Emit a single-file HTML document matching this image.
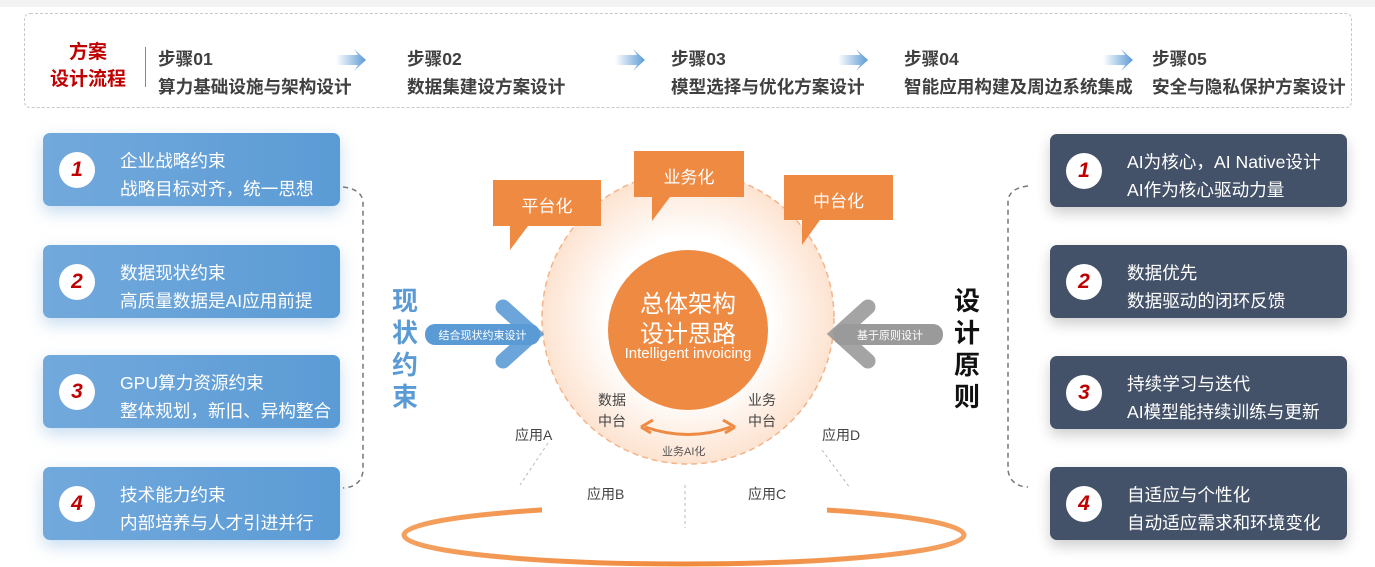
<!DOCTYPE html>
<html><head><meta charset="utf-8"><style>
*{margin:0;padding:0;box-sizing:border-box}
body{width:1375px;height:567px;overflow:hidden;background:#fff;font-family:"Liberation Sans","Noto Sans CJK SC",sans-serif;position:relative}
.a{position:absolute}
.top{left:0;top:0;width:1375px;height:7px;background:#f3f3f3}
.flow{left:24px;top:13px;width:1328px;height:95px;border:1.5px dashed #c8c8c8;border-radius:6px}
.ft{color:#c00000;font-weight:bold;font-size:19px;line-height:27px;text-align:center;left:40px;top:39px;width:96px}
.sep{left:145px;top:47px;width:1px;height:40px;background:#888}
.st{color:#404040;font-weight:bold;font-size:17.6px;line-height:28px}
.card{width:297px;height:73px;border-radius:7px;color:#fff;font-size:17.6px;line-height:28px;padding:14px 0 0 77px}
.lc{left:43px;background:linear-gradient(90deg,#72a9dc,#5b9bd5);box-shadow:0 6px 16px rgba(91,155,213,.35)}
.rc{left:1050px;background:#445269;box-shadow:0 6px 14px rgba(0,0,0,.2)}
.num{position:absolute;left:16px;top:19px;width:36px;height:36px;border-radius:50%;background:#fff;color:#c00000;font-weight:bold;font-style:italic;font-size:21px;line-height:36px;text-align:center;font-family:"Liberation Sans",sans-serif}
.vt{font-weight:bold;font-size:26px;line-height:32px;width:30px;text-align:center}
</style></head><body>
<div class="a top"></div>
<div class="a flow"></div>
<div class="a ft">方案<br>设计流程</div>
<div class="a sep"></div>
<div class="a st" style="left:158px;top:45px">步骤01<br>算力基础设施与架构设计</div>
<div class="a st" style="left:407px;top:45px">步骤02<br>数据集建设方案设计</div>
<div class="a st" style="left:671px;top:45px">步骤03<br>模型选择与优化方案设计</div>
<div class="a st" style="left:904px;top:45px">步骤04<br>智能应用构建及周边系统集成</div>
<div class="a st" style="left:1152px;top:45px">步骤05<br>安全与隐私保护方案设计</div>
<svg class="a" style="left:0;top:0" width="1375" height="567">
<defs>
<linearGradient id="ar" x1="0" x2="1"><stop offset="0" stop-color="#fff"/><stop offset="1" stop-color="#5b9bd5"/></linearGradient>
<radialGradient id="cg"><stop offset="0.55" stop-color="#fff"/><stop offset="1" stop-color="#fde3d0"/></radialGradient>
<linearGradient id="el" x1="0" x2="1"><stop offset="0" stop-color="#f4a060"/><stop offset="0.5" stop-color="#f08a3c"/><stop offset="1" stop-color="#f4a060"/></linearGradient>
</defs>
<g fill="url(#ar)">
<path d="M336 55h22l-4-6 12 11-12 11 4-6h-22z"/>
<path d="M615 55h22l-4-6 12 11-12 11 4-6h-22z"/>
<path d="M838 55h22l-4-6 12 11-12 11 4-6h-22z"/>
<path d="M1103 55h22l-4-6 12 11-12 11 4-6h-22z"/>
</g>
<path d="M343 187q18 2 20 14v270q-2 16-20 17" fill="none" stroke="#777" stroke-width="1.5" stroke-dasharray="5,4"/>
<path d="M1028 186q-18 2-20 14v270q2 16 20 17" fill="none" stroke="#777" stroke-width="1.5" stroke-dasharray="5,4"/>
<ellipse cx="684" cy="535" rx="280" ry="29" fill="none" stroke="url(#el)" stroke-width="5"/>
<rect x="542" y="475" width="285" height="40" fill="#fff"/>
<circle cx="688" cy="318" r="146" fill="url(#cg)" stroke="#f4b48a" stroke-width="1.5" stroke-dasharray="6,4"/>
<line x1="548" y1="443" x2="520" y2="485" stroke="#bbb" stroke-dasharray="3,3"/>
<line x1="685" y1="485" x2="685" y2="528" stroke="#bbb" stroke-dasharray="3,3"/>
<line x1="822" y1="450" x2="850" y2="488" stroke="#bbb" stroke-dasharray="3,3"/>
<circle cx="688" cy="330" r="80" fill="#ee8a42"/>
<path d="M493 180h108v46h-73l-18 24v-24h-17z" fill="#ee8a42"/>
<path d="M634 151h110v46h-74l-18 24v-24h-18z" fill="#ee8a42"/>
<path d="M784 175h109v45h-73l-18 25v-25h-18z" fill="#ee8a42"/>
<path d="M645 427q43 15 86 0" fill="none" stroke="#ee8a42" stroke-width="3"/>
<path d="M641 427l12-7m-12 7l10 6M735 427l-12-7m12 7l-10 6" stroke="#ee8a42" stroke-width="3" fill="none"/>
<g stroke="#5b9bd5" stroke-width="15" stroke-linecap="round" fill="none" opacity="0.9"><path d="M503 307l30 27-30 27"/></g>
<rect x="425" y="324" width="115" height="21" rx="10" fill="#5b9bd5"/>
<g stroke="#9a9a9a" stroke-width="15" stroke-linecap="round" fill="none" opacity="0.9"><path d="M868 307l-30 27 30 27"/></g>
<rect x="833" y="324" width="110" height="21" rx="10" fill="#9a9a9a"/>
</svg>
<div class="a" style="left:425px;top:327px;width:115px;text-align:center;color:#fff;font-size:11px">结合现状约束设计</div>
<div class="a" style="left:840px;top:327px;width:100px;text-align:center;color:#fff;font-size:11px">基于原则设计</div>
<div class="a" style="left:493px;top:192px;width:108px;text-align:center;color:#fff;font-size:17px">平台化</div>
<div class="a" style="left:634px;top:163px;width:110px;text-align:center;color:#fff;font-size:17px">业务化</div>
<div class="a" style="left:784px;top:187px;width:109px;text-align:center;color:#fff;font-size:17px">中台化</div>
<div class="a" style="left:608px;top:290px;width:160px;text-align:center;color:#fff;font-size:24px;line-height:30px">总体架构<br>设计思路</div>
<div class="a" style="left:600px;top:345px;width:176px;text-align:center;color:#fff;font-size:15px">Intelligent invoicing</div>
<div class="a" style="left:598px;top:390px;color:#444;font-size:14px;line-height:21px">数据<br>中台</div>
<div class="a" style="left:748px;top:390px;color:#444;font-size:14px;line-height:21px">业务<br>中台</div>
<div class="a" style="left:662px;top:443px;color:#555;font-size:11px">业务AI化</div>
<div class="a" style="left:515px;top:425px;color:#444;font-size:14px">应用A</div>
<div class="a" style="left:822px;top:425px;color:#444;font-size:14px">应用D</div>
<div class="a" style="left:587px;top:484px;color:#444;font-size:14px">应用B</div>
<div class="a" style="left:748px;top:484px;color:#444;font-size:14px">应用C</div>
<div class="a vt" style="left:390px;top:285px;color:#5b9bd5">现<br>状<br>约<br>束</div>
<div class="a vt" style="left:952px;top:285px;color:#111">设<br>计<br>原<br>则</div>
<div class="a card lc" style="top:133px"><div class="num">1</div>企业战略约束<br>战略目标对齐，统一思想</div>
<div class="a card lc" style="top:245px"><div class="num">2</div>数据现状约束<br>高质量数据是AI应用前提</div>
<div class="a card lc" style="top:355px"><div class="num">3</div>GPU算力资源约束<br>整体规划，新旧、异构整合</div>
<div class="a card lc" style="top:467px"><div class="num">4</div>技术能力约束<br>内部培养与人才引进并行</div>
<div class="a card rc" style="top:134px"><div class="num">1</div>AI为核心，AI Native设计<br>AI作为核心驱动力量</div>
<div class="a card rc" style="top:245px"><div class="num">2</div>数据优先<br>数据驱动的闭环反馈</div>
<div class="a card rc" style="top:356px"><div class="num">3</div>持续学习与迭代<br>AI模型能持续训练与更新</div>
<div class="a card rc" style="top:467px"><div class="num">4</div>自适应与个性化<br>自动适应需求和环境变化</div>
</body></html>
